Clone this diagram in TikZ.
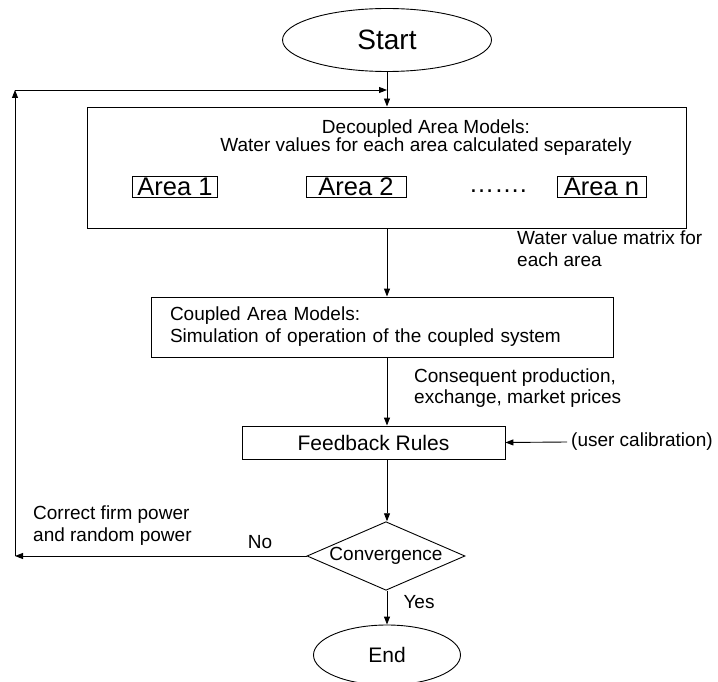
\documentclass[tikz,border=0pt]{standalone}
\usepackage{fontspec}
\setmainfont{Liberation Sans}
\usetikzlibrary{positioning,arrows.meta,shapes.geometric}

\begin{document}
\begin{tikzpicture}[
  x=1pt, y=1pt,
  txt/.style={font=\fontsize{19}{18}\selectfont, inner sep=0pt},
  box/.style={draw, line width=0.9pt, inner sep=0pt, font=\fontsize{19}{22}\selectfont},
  term/.style={draw, ellipse, line width=0.9pt, inner sep=0pt},
  areabox/.style={box, font=\fontsize{25.5}{26}\selectfont, minimum height=21pt},
  arr/.style={-{Triangle[length=8pt,width=6pt]}, line width=0.9pt}
]
\useasboundingbox (0,0) rectangle (718,-682);

\node[term, minimum width=209pt, minimum height=63pt, font=\fontsize{28}{28}\selectfont] (start) at (387,-40) {Start};
\node[box, minimum width=599pt, minimum height=121pt] (decoupled) at (387,-167.5) {};
\node[txt, align=center] (dectitle) at (426,-138) {Decoupled Area Models:\\Water values for each area calculated separately};
\node[areabox, minimum width=85pt] (area1) at (175,-186.5) {Area 1};
\node[areabox, minimum width=100pt] (area2) at (356,-186.5) {Area 2};
\node[txt, font=\fontsize{25.5}{26}\selectfont, anchor=base] (dots) at (498,-193) {…….};
\node[areabox, minimum width=89pt] (arean) at (601.5,-186.5) {Area n};

\node[box, align=left, text width=424pt, inner xsep=19pt, minimum height=60pt] (coupled) at (382,-327) {Coupled Area Models:\\Simulation of operation of the coupled system};
\node[box, minimum width=263pt, minimum height=33pt, font=\fontsize{21}{21}\selectfont] (feedback) at (373.5,-442.5) {Feedback Rules};
\node[draw, diamond, aspect=2.2, line width=0.9pt, inner sep=0pt, minimum width=158pt, minimum height=68pt, font=\fontsize{19}{19}\selectfont] (conv) at (386,-556) {Convergence};
\node[term, minimum width=147pt, minimum height=60pt, font=\fontsize{21}{21}\selectfont] (end) at (387,-655) {End};

% labels
\node[txt, align=left, anchor=west, font=\fontsize{19}{22}\selectfont] (wvm) at (517,-249) {Water value matrix for\\each area};
\node[txt, align=left, anchor=west, font=\fontsize{19}{21}\selectfont] (cons) at (414,-388.5) {Consequent production,\\exchange, market prices};
\node[txt, anchor=west] (usercal) at (571,-442) {(user calibration)};
\node[txt, align=left, anchor=west, font=\fontsize{19}{22}\selectfont] (correct) at (33,-526) {Correct firm power\\and random power};
\node[txt] (no) at (260,-542) {No};
\node[txt] (yes) at (419,-602) {Yes};

\coordinate (topjoin) at (387,-90);
\coordinate (topleft) at (15,-90);
\coordinate (botleft) at (15,-556);

\draw[arr] (start.south) -- (decoupled.north);
\draw[arr] (decoupled.south) -- (coupled.north -| start);
\draw[arr] (coupled.south -| start) -- (feedback.north -| start);
\draw[arr] (feedback.south -| start) -- (conv.north -| start);
\draw[arr] (conv.south -| start) -- (end.north);
\draw[arr] ([xshift=-4pt]usercal.west) -- (feedback.east);
\draw[arr] (conv.west) -- (botleft);
\draw[arr] (botleft) -- (topleft);
\draw[arr] (topleft) -- (topjoin);
\end{tikzpicture}
\end{document}
